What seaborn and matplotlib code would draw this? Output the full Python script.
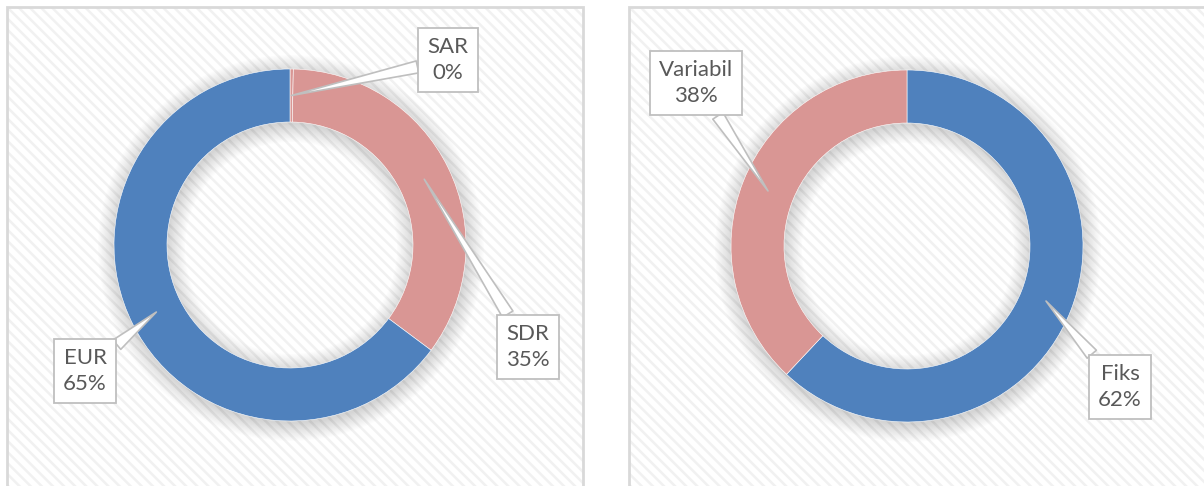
import numpy as np
import matplotlib.pyplot as plt
from matplotlib.patches import Rectangle, Wedge
import seaborn as sns

# -----------------------------
# Data
# -----------------------------
currency_labels = ["SAR", "SDR", "EUR"]
currency_values = [0.3, 34.9, 64.8]

rate_labels = ["Fiks", "Variabil"]
rate_values = [62, 38]

blue = "#4F81BD"
pink = "#D99694"
currency_colors = [pink, pink, blue]
rate_colors = [blue, pink]

# -----------------------------
# Style
# -----------------------------
sns.set_theme(style="white")
plt.rcParams["font.family"] = ["Lato", "DejaVu Sans"]
plt.rcParams["hatch.linewidth"] = 1.8

W, H = 1204, 486
fig = plt.figure(figsize=(W / 100, H / 100), dpi=100)
ax = fig.add_axes([0, 0, 1, 1])

# panels (pixel coords, y up)
panels = [(7, 576), (629, 600)]
for x0, w in panels:
    ax.add_patch(Rectangle((x0, -10), w, H - 7 + 10, facecolor="white",
                           edgecolor="#f1f1f1", hatch="\\" * 3, lw=0, zorder=0))
    ax.add_patch(Rectangle((x0, -10), w, H - 7 + 10, fill=False,
                           edgecolor="#d9d9d9", lw=2, zorder=1))

R_OUT, R_W = 176, 53
R_MID = R_OUT - R_W / 2


def donut(values, labels, colors, center, box_offsets):
    cx, cy = center
    # soft shadow
    for k in range(14):
        ax.add_patch(Wedge((cx + 1, cy - 3), R_OUT + k * 1.3, 0, 360,
                           width=R_W + 2 * k * 1.3, color="black",
                           alpha=0.012, lw=0, zorder=2))
    ax.pie(values, radius=R_OUT, center=center, startangle=90,
           counterclock=False, colors=colors,
           wedgeprops=dict(width=R_W, edgecolor="white", linewidth=0.4, zorder=3))
    total = sum(values)
    start = 90.0
    for val, lab, off in zip(values, labels, box_offsets):
        span = val / total * 360
        mid = np.deg2rad(start - span / 2)
        start -= span
        px, py = cx + R_MID * np.cos(mid), cy + R_MID * np.sin(mid)
        txt = f"{lab}\n{round(val / total * 100):.0f}%"
        ax.annotate(txt, xy=(px, py), xytext=(off[0], off[1]),
                    ha="center", va="center", fontsize=16, color="#595959",
                    linespacing=1.35, zorder=6,
                    bbox=dict(boxstyle="square,pad=0.42", fc="white",
                              ec="#bfbfbf", lw=1.3),
                    arrowprops=dict(arrowstyle="wedge,tail_width=0.55,shrink_factor=0.5",
                                    fc="white", ec="#bfbfbf", lw=1.2,
                                    shrinkA=0, shrinkB=0),
                    annotation_clip=False)


# box centres given as image pixels -> y up
donut(currency_values, currency_labels, currency_colors, (290, H - 245),
      [(448, H - 60), (528, H - 347), (85, H - 371)])
donut(rate_values, rate_labels, rate_colors, (907, H - 246),
      [(1120, H - 387), (696, H - 83)])

ax.set_xlim(0, W)
ax.set_ylim(0, H)
ax.set_aspect("auto")
ax.axis("off")

fig.savefig("out.png", dpi=100)
